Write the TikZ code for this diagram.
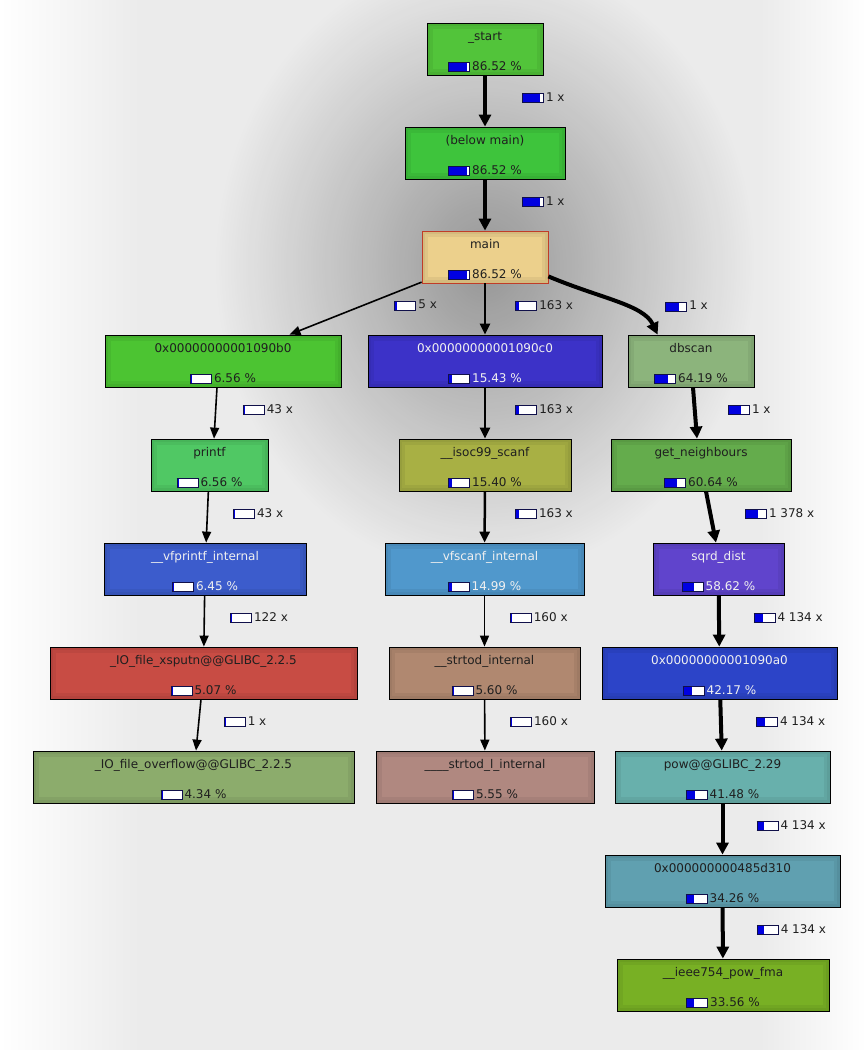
\documentclass[tikz,border=0pt]{standalone}
\usepackage{fontspec}
\setmainfont{DejaVu Sans}
\usetikzlibrary{arrows.meta,fadings}

\definecolor{bggray}{HTML}{EBEBEB}
\definecolor{barblue}{HTML}{0000E0}
\definecolor{barframe}{HTML}{10104A}
\definecolor{cstart}{HTML}{52C43A}
\definecolor{cbelow}{HTML}{3EC43C}
\definecolor{cmain}{HTML}{ECD08C}
\definecolor{cmainedge}{HTML}{C03C28}
\definecolor{cbzero}{HTML}{4CC432}
\definecolor{czero}{HTML}{3C32C8}
\definecolor{cdbscan}{HTML}{8CB47C}
\definecolor{cprintf}{HTML}{50C864}
\definecolor{cisoc}{HTML}{A8B044}
\definecolor{cgetn}{HTML}{64AC4C}
\definecolor{cvfprintf}{HTML}{3C5CCC}
\definecolor{cvfscanf}{HTML}{5098CC}
\definecolor{csqrd}{HTML}{6044CC}
\definecolor{cxsputn}{HTML}{C84C44}
\definecolor{cstrtod}{HTML}{B08870}
\definecolor{cazero}{HTML}{2C44C8}
\definecolor{coverflow}{HTML}{8CAC6C}
\definecolor{cstrtodl}{HTML}{B08880}
\definecolor{cpow}{HTML}{68B0AC}
\definecolor{cdthree}{HTML}{60A0B0}
\definecolor{cieee}{HTML}{78B024}

\newcommand{\callfont}{\fontsize{12}{13}\selectfont}
% small cost bar, argument in 1/100 percent
\newcommand{\costbar}[1]{\raisebox{-1pt}{\setlength{\fboxsep}{0pt}\setlength{\fboxrule}{1pt}%
  \fcolorbox{barframe}{white}{\makebox[20pt][l]{\textcolor{barblue}{\rule{\dimexpr 20pt*#1/10000\relax}{8pt}}}}}\hspace{2pt}}
% function box text: name, cost in 1/100 percent, cost text
\newcommand{\callee}[3]{\rule{0pt}{14pt}#1\\[17pt]\costbar{#2}#3 \%}

\tikzfading[name=glowfade, inner color=transparent!0, outer color=transparent!100]

\tikzset{
  fn/.style={draw=black, line width=0.8pt, fill=#1, minimum height=52pt, inner sep=0pt,
    align=center, font=\callfont, text=black!88,
    path picture={
      \draw[#1!70!black, opacity=0.18, line width=12pt] (path picture bounding box.south west) rectangle (path picture bounding box.north east);
      \draw[#1!70!black, opacity=0.18, line width=6pt] (path picture bounding box.south west) rectangle (path picture bounding box.north east);
    }},
  fnw/.style={fn=#1, text=white!94!black},
  call/.style={-{Triangle[length=11pt,width=9pt]}, line width=1.6pt},
  callmid/.style={-{Triangle[length=11pt,width=10pt]}, line width=2.5pt},
  callthick/.style={-{Triangle[length=12pt,width=12pt]}, line width=4pt},
  elabel/.style={anchor=west, xshift=#1, yshift=3pt, inner sep=0pt, font=\callfont, text=black!88}
}

\begin{document}
\begin{tikzpicture}[x=1pt, y=-1pt]
\useasboundingbox (0,0) rectangle (866,1050);
% background
\shade[left color=white, right color=bggray] (0,0) rectangle (140,1050);
\fill[bggray] (140,0) rectangle (760,1050);
\shade[left color=bggray, right color=white] (760,0) rectangle (866,1050);
\fill[black, opacity=0.36, path fading=glowfade] (485,265) ellipse (270 and 310);

% functions
\node[fn=cstart, minimum width=116pt] (start) at (485,49) {\callee{\_start}{8652}{86.52}};
\node[fn=cbelow, minimum width=160pt] (belowmain) at (485,153) {\callee{(below main)}{8652}{86.52}};
\node[fn=cmain, draw=cmainedge, minimum width=126pt] (main) at (485,257) {\callee{main}{8652}{86.52}};
\node[fn=cbzero, minimum width=236pt] (fbzero) at (223,361) {\callee{0x00000000001090b0}{656}{6.56}};
\node[fnw=czero, minimum width=234pt] (fczero) at (485,361) {\callee{0x00000000001090c0}{1543}{15.43}};
\node[fn=cdbscan, minimum width=126pt] (dbscan) at (691,361) {\callee{dbscan}{6419}{64.19}};
\node[fn=cprintf, minimum width=117pt] (printf) at (209.5,465) {\callee{printf}{656}{6.56}};
\node[fn=cisoc, minimum width=172pt] (isoc) at (485,465) {\callee{\_\_isoc99\_scanf}{1540}{15.40}};
\node[fn=cgetn, minimum width=180pt] (getn) at (701,465) {\callee{get\_neighbours}{6064}{60.64}};
\node[fnw=cvfprintf, minimum width=202pt] (vfprintf) at (205,569) {\callee{\_\_vfprintf\_internal}{645}{6.45}};
\node[fnw=cvfscanf, minimum width=199pt] (vfscanf) at (484.5,569) {\callee{\_\_vfscanf\_internal}{1499}{14.99}};
\node[fnw=csqrd, minimum width=131pt] (sqrd) at (718.5,569) {\callee{sqrd\_dist}{5862}{58.62}};
\node[fn=cxsputn, minimum width=307pt] (xsputn) at (203.5,673) {\callee{\_IO\_file\_xsputn@@GLIBC\_2.2.5}{507}{5.07}};
\node[fn=cstrtod, minimum width=191pt] (strtod) at (484.5,673) {\callee{\_\_strtod\_internal}{560}{5.60}};
\node[fnw=cazero, minimum width=235pt] (fazero) at (719.5,673) {\callee{0x00000000001090a0}{4217}{42.17}};
\node[fn=coverflow, minimum width=321pt] (overflow) at (193.5,777) {\callee{\_IO\_file\_overflow@@GLIBC\_2.2.5}{434}{4.34}};
\node[fn=cstrtodl, minimum width=218pt] (strtodl) at (485,777) {\callee{\_\_\_\_strtod\_l\_internal}{555}{5.55}};
\node[fn=cpow, minimum width=215pt] (pow) at (722.5,777) {\callee{pow@@GLIBC\_2.29}{4148}{41.48}};
\node[fn=cdthree, minimum width=235pt] (dthree) at (722.5,881) {\callee{0x000000000485d310}{3426}{34.26}};
\node[fn=cieee, minimum width=212pt] (ieee) at (723,985) {\callee{\_\_ieee754\_pow\_fma}{3356}{33.56}};

% calls
\draw[callthick] (start) -- (belowmain) node[elabel=35pt, midway] (cstartbelow) {\costbar{8652}1 x};
\draw[callthick] (belowmain) -- (main) node[elabel=35pt, midway] (cbelowmain) {\costbar{8652}1 x};
\draw[call] (main) -- (fbzero) node[elabel=38pt, midway] (cmainb) {\costbar{656}5 x};
\draw[callmid] (main) -- (fczero) node[elabel=29pt, midway] (cmainc) {\costbar{1543}163 x};
\draw[callthick] ([yshift=7pt]main.south east) .. controls +(52,22) and +(-14,-30) .. ([xshift=30pt]dbscan.north west)
  node[elabel=46pt, yshift=-7pt, midway] (cmaindb) {\costbar{6419}1 x};
\draw[call] ([xshift=-6pt]fbzero.south) -- ([xshift=4.5pt]printf.north) node[elabel=26.5pt, midway] (cbprintf) {\costbar{656}43 x};
\draw[callmid] (fczero) -- (isoc) node[elabel=29pt, midway] (ccisoc) {\costbar{1540}163 x};
\draw[callthick] ([xshift=2pt]dbscan.south) -- ([xshift=-4pt]getn.north) node[elabel=31pt, midway] (cdbgetn) {\costbar{6064}1 x};
\draw[call] (printf) -- (vfprintf) node[elabel=25pt, midway] (cprintfvf) {\costbar{645}43 x};
\draw[callmid] (isoc) -- (vfscanf) node[elabel=29pt, midway] (cisocvf) {\costbar{1499}163 x};
\draw[callthick] ([xshift=5pt]getn.south) -- ([xshift=-2.5pt]sqrd.north) node[elabel=32pt, midway] (cgetnsqrd) {\costbar{5862}1 378 x};
\draw[call] (vfprintf) -- (xsputn) node[elabel=25pt, midway] (cvfxsputn) {\costbar{507}122 x};
\draw[call] (vfscanf) -- (strtod) node[elabel=24.5pt, midway] (cvfstrtod) {\costbar{560}160 x};
\draw[callthick] (sqrd) -- (fazero) node[elabel=32.5pt, midway] (csqrda) {\costbar{4217}4 134 x};
\draw[call] ([xshift=-2.5pt]xsputn.south) -- ([xshift=2.5pt]overflow.north) node[elabel=24.5pt, midway] (cxsover) {\costbar{434}1 x};
\draw[call] (strtod) -- (strtodl) node[elabel=24.5pt, midway] (cstrtodl) {\costbar{555}160 x};
\draw[callthick] (fazero) -- (pow) node[elabel=33pt, midway] (capow) {\costbar{4148}4 134 x};
\draw[callthick] (pow) -- (dthree) node[elabel=32pt, midway] (cpowd) {\costbar{3426}4 134 x};
\draw[callthick] (dthree) -- (ieee) node[elabel=32pt, midway] (cdieee) {\costbar{3356}4 134 x};
\end{tikzpicture}
\end{document}
